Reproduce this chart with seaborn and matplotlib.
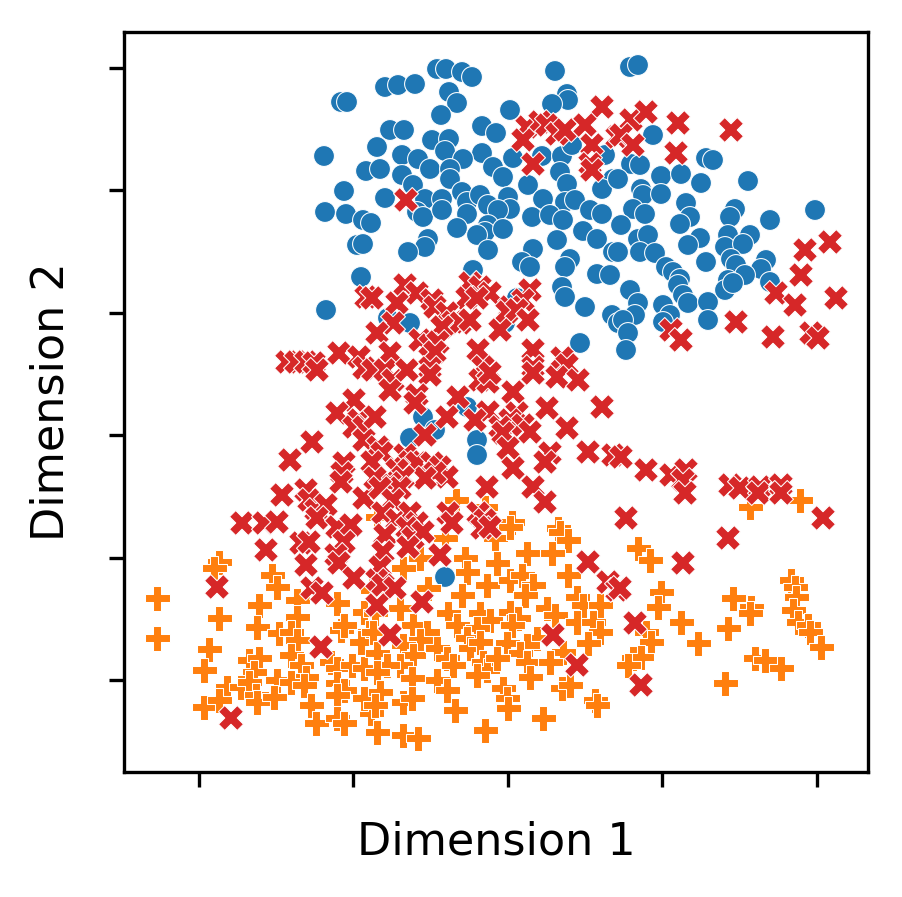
import numpy as np
import pandas as pd
import matplotlib
matplotlib.use("Agg")
import matplotlib.pyplot as plt
import seaborn as sns

blue_x = [341,347,324,366,344,325,346,363,371,357,363,361,
          437,446,462,472,555,385,398,415,449,457,567,568,552,510,441,390,404,482,496,432,449,445,377,482,402,418,430,463,513,542,562,572,605,380,450,450,493,503,402,413,560,567,528,613,602,385,425,442,462,467,480,488,508,510,543,565,575,417,423,442,467,498,532,550,563,590,602,457,488,485,477,503,557,583,597,428,425,408,488,533,613,522,530,570,565,473,597,610,
          630,638,653,706,713,631,640,618,661,681,701,748,641,643,661,686,690,680,633,645,735,730,770,815,621,638,648,700,688,728,725,750,743,618,640,655,731,736,766,761,706,666,673,680,745,728,770,
          326,562,565,585,612,618,517,580,388,410,505,467,423,435,410,477,477,
          630,638,635,623,628,626,663,670,663,678,683,688,708,708,725,733,445]
blue_y = [102,102,156,171,191,212,214,220,223,245,244,277,
          69,69,72,77,71,87,85,84,92,103,94,100,104,110,115,130,130,126,133,140,139,151,147,153,155,159,169,159,158,156,156,145,155,169,169,179,167,177,175,185,172,184,185,179,189,198,199,199,192,202,195,205,197,209,199,202,200,212,217,210,214,210,217,215,220,210,214,228,225,232,235,229,240,231,239,239,247,252,250,249,252,262,267,259,267,270,274,275,
          67,65,135,158,160,164,165,179,176,174,183,181,189,195,194,203,217,224,209,214,209,217,220,210,225,239,235,238,245,235,247,235,244,252,252,253,259,265,260,269,262,267,272,279,275,280,282,
          310,287,297,307,315,323,298,343,318,323,323,407,417,430,438,440,455,
          290,303,315,320,333,350,305,315,322,285,295,303,302,320,290,283,577]

orange_x = [456,485,512,558,377,750,800,
            219,214,272,277,157,297,337,364,372,259,219,297,257,279,291,297,341,344,369,157,209,361,249,259,254,291,301,306,331,337,352,364,204,277,291,304,227,241,249,337,344,337,256,257,274,311,204,219,371,316,337,344,364,
            445,495,510,560,568,420,403,465,467,497,527,552,568,487,510,522,533,525,462,428,577,583,600,400,375,448,457,480,490,477,510,518,512,547,555,413,427,420,373,577,593,600,588,537,527,467,470,480,507,403,413,400,437,447,453,377,387,377,520,527,563,550,483,487,477,497,412,437,530,562,570,380,375,447,503,507,508,403,412,455,595,597,377,403,418,485,543,
            638,650,661,658,681,646,651,698,633,641,628,733,751,750,728,725,755,765,781,791,795,796,793,798,808,810,821]
orange_y = [500,507,522,528,517,507,500,
            562,568,575,587,598,600,603,612,590,605,618,617,627,633,632,640,630,625,632,638,649,642,660,658,672,655,665,677,662,668,665,668,670,680,682,685,687,687,682,683,690,695,695,702,697,705,707,700,713,723,718,723,698,
            538,538,527,532,540,558,568,558,572,563,553,553,575,585,580,575,585,595,595,588,597,605,605,608,613,613,625,613,620,628,612,618,625,608,615,625,632,640,632,622,622,632,643,638,645,638,648,642,643,645,655,665,648,658,665,653,665,672,653,662,652,662,662,670,675,658,678,680,677,688,685,692,705,690,688,698,708,702,698,710,700,705,732,735,738,730,718,
            548,560,592,607,622,632,642,643,658,657,665,598,607,613,628,683,658,660,668,580,587,597,610,622,625,632,647]

red_x = [602,527,540,547,523,557,565,585,592,617,533,590,592,406,
         631,646,621,633,678,676,731,805,830,801,
         366,287,296,306,314,317,339,359,364,354,337,359,354,364,364,312,290,344,342,341,282,306,309,316,326,364,242,264,277,317,337,351,
         405,417,470,480,490,467,477,530,523,510,507,517,372,397,432,435,447,453,460,470,442,393,528,377,420,430,438,435,500,478,533,562,567,557,578,390,373,385,393,390,407,430,430,483,480,488,490,533,533,513,417,415,458,602,547,488,475,517,510,523,447,375,567,500,503,530,425,588,613,508,550,545,378,382,372,405,410,417,432,440,447,435,425,397,403,390,400,375,380,513,487,533,545,393,383,397,410,417,448,452,478,485,482,490,
         671,681,736,776,795,836,773,811,818,621,646,671,686,683,685,730,740,760,758,781,781,823,626,
         266,301,309,344,336,339,354,306,217,312,322,321,231,
         385,407,413,423,383,380,377,383,395,377,408,440,422,390,588,608,617,553,577,
         728,683,620,635,641]
red_y = [107,127,122,125,140,134,130,125,145,137,164,164,170,200,
         120,112,135,145,123,153,130,250,242,275,
         297,362,362,362,363,370,353,357,368,400,413,420,427,427,440,442,460,463,473,482,495,490,500,510,505,498,523,523,522,518,527,525,
         285,293,283,287,293,298,298,290,300,307,312,310,298,303,300,307,313,322,323,320,327,323,320,333,340,345,342,352,330,350,350,358,365,377,380,353,370,370,380,390,370,368,375,367,380,382,373,367,373,392,395,403,397,407,408,412,420,413,420,425,417,417,428,427,433,432,435,452,455,448,453,462,447,453,462,455,462,463,463,467,477,473,478,470,477,483,488,478,488,468,487,487,502,500,513,520,513,523,513,523,513,520,528,527,
         330,340,322,293,305,298,337,333,338,457,470,475,470,480,493,485,488,487,493,485,493,518,518,
         550,543,542,542,555,563,578,565,587,588,593,647,718,
         535,528,538,532,552,567,580,585,588,605,547,555,602,635,562,582,590,635,665,
         538,563,588,623,685]

groups = ["Group A", "Group B", "Group C"]
x_ticks = [199, 353, 508, 662, 817]
y_ticks = [68, 190, 313, 435, 558, 680]

df = pd.concat([
    pd.DataFrame({"x": blue_x, "y": blue_y, "group": groups[0]}),
    pd.DataFrame({"x": orange_x, "y": orange_y, "group": groups[1]}),
    pd.DataFrame({"x": red_x, "y": red_y, "group": groups[2]}),
], ignore_index=True)

palette = {groups[0]: "#1f77b4", groups[1]: "#ff7f0e", groups[2]: "#d62728"}
markers = {groups[0]: "o", groups[1]: "P", groups[2]: "X"}
sizes = {groups[0]: 25, groups[1]: 36, groups[2]: 36}

sns.set_style("ticks")
plt.rcParams["font.family"] = ["DejaVu Sans"]
plt.rcParams["text.color"] = "black"
plt.rcParams["axes.labelcolor"] = "black"

fig = plt.figure(figsize=(902 / 300, 897 / 300), dpi=300)
ax = fig.add_axes([124 / 902, 125 / 897, 744 / 902, 740 / 897])
sns.scatterplot(data=df, x="x", y="y", hue="group", style="group", size="group",
                palette=palette, markers=markers, sizes=sizes, linewidth=0.25,
                legend=False, ax=ax)
ax.set_xlim(124, 868)
ax.set_ylim(772, 32)
ax.set_xticks(x_ticks)
ax.set_yticks(y_ticks)
ax.set_xticklabels([])
ax.set_yticklabels([])
for sp in ax.spines.values():
    sp.set_visible(True)
    sp.set_linewidth(0.8)
    sp.set_color("black")
ax.tick_params(length=3.5, width=0.8, color="black")
ax.set_xlabel("Dimension 1", fontsize=10.7, color="black")
ax.set_ylabel("Dimension 2", fontsize=10.7, color="black")
ax.xaxis.set_label_coords(0.5, -0.066)
ax.yaxis.set_label_coords(-0.069, 0.5)
fig.savefig("out.png", dpi=300)
